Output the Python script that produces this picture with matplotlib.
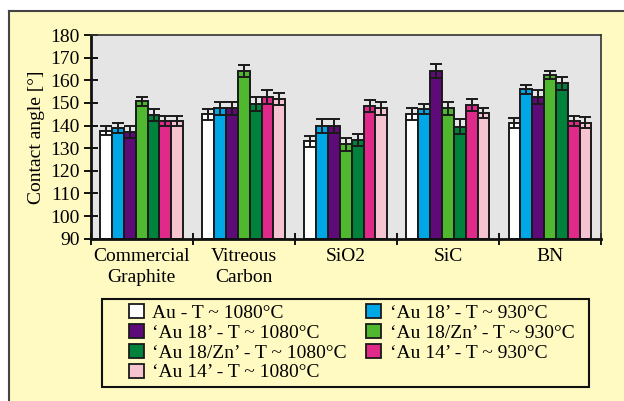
import matplotlib.pyplot as plt
import numpy as np
from matplotlib.patches import Rectangle, Patch

plt.rcParams['font.family'] = ['Liberation Serif', 'DejaVu Serif']

substrates = ['Commercial\nGraphite', 'Vitreous\nCarbon', 'SiO2', 'SiC', 'BN']

# contact angles per alloy (mean, spread), one value per substrate
au_1080 = [137.7, 145.0, 133.0, 145.0, 141.2]
au_1080_err = [2.0, 2.4, 2.4, 2.7, 2.1]
au18_930 = [138.7, 147.6, 139.7, 147.1, 156.0]
au18_930_err = [2.2, 2.8, 3.0, 2.2, 2.0]
au18_1080 = [137.3, 147.6, 139.7, 164.2, 152.4]
au18_1080_err = [2.7, 2.8, 3.0, 3.1, 3.1]
au18zn_930 = [150.7, 164.1, 131.8, 147.6, 162.3]
au18zn_930_err = [2.0, 2.5, 2.9, 2.9, 1.9]
au18zn_1080 = [144.7, 149.6, 133.6, 139.4, 158.6]
au18zn_1080_err = [2.6, 3.0, 2.7, 3.3, 2.8]
au14_930 = [142.0, 152.6, 148.6, 149.2, 142.1]
au14_930_err = [2.0, 2.9, 2.6, 2.6, 2.2]
au14_1080 = [142.0, 151.8, 147.6, 145.5, 141.2]
au14_1080_err = [2.0, 2.7, 2.9, 2.3, 2.4]

labels = ['Au - T ~ 1080°C', '‘Au 18’ - T ~ 930°C', '‘Au 18’ - T ~ 1080°C',
          '‘Au 18/Zn’ - T ~ 930°C', '‘Au 18/Zn’ - T ~ 1080°C',
          '‘Au 14’ - T ~ 930°C', '‘Au 14’ - T ~ 1080°C']
series = [au_1080, au18_930, au18_1080, au18zn_930, au18zn_1080, au14_930, au14_1080]
errors = [au_1080_err, au18_930_err, au18_1080_err, au18zn_930_err,
          au18zn_1080_err, au14_930_err, au14_1080_err]
colors = ['#ffffff', '#00a7e6', '#5e0a78', '#4fb82e', '#00823d', '#df2a89', '#f6c4d1']

fs = 14

fig = plt.figure(figsize=(6.24, 4.01), dpi=100, facecolor='white')

# yellow panel with a dark edge on top and left
top = (401 - 11) / 401
fig.patches.append(Rectangle((8.5 / 624, -0.01), 1.0, top + 0.01,
                             transform=fig.transFigure, facecolor='#fff9c2',
                             edgecolor='none', zorder=-5))
fig.add_artist(plt.Line2D([8.5 / 624, 1], [top, top],
                          transform=fig.transFigure, color='#444444', lw=1.5))
fig.add_artist(plt.Line2D([8.5 / 624] * 2, [0, top],
                          transform=fig.transFigure, color='#444444', lw=1.5))

ax = fig.add_axes([90.7 / 624, (401 - 238.7) / 401, (601 - 90.7) / 624, (238.7 - 35) / 401])
ax.set_facecolor('#e5e5e5')

x = np.arange(len(substrates))
w = 0.116
for i, (vals, errs, c) in enumerate(zip(series, errors, colors)):
    pos = x + (i - 3) * w
    ax.bar(pos, np.array(vals) - 90, w, bottom=90, color=c, edgecolor='#1a1a1a',
           linewidth=1.4, zorder=2)
    ax.errorbar(pos, vals, yerr=errs, fmt='none', ecolor='#1a1a1a', elinewidth=1.4,
                capsize=4.2, capthick=1.4, zorder=3)

ax.set_xlim(-0.5, 4.5)
ax.set_ylim(90, 180)
ax.set_yticks(np.arange(90, 181, 10))
ax.set_xticks(np.arange(-0.5, 5, 1))
ax.set_xticklabels([])
ax.set_xticks(x, minor=True)
ax.set_xticklabels(substrates, minor=True, fontsize=fs, linespacing=1.25)
ax.tick_params(axis='x', which='minor', length=0, pad=7)
ax.tick_params(axis='x', which='major', direction='inout', length=9, width=1.3)
ax.tick_params(axis='y', direction='inout', length=10, width=1.3, labelsize=fs, pad=3)
ax.set_ylabel('Contact angle [°]', fontsize=fs, labelpad=4)

for side in ['left', 'bottom']:
    ax.spines[side].set_linewidth(2)
    ax.spines[side].set_color('#111111')
for side in ['top', 'right']:
    ax.spines[side].set_linewidth(1.2)
    ax.spines[side].set_color('#333333')

# legend: first column 1080°C alloys, second column 930°C alloys
order = [0, 2, 4, 6, 1, 3, 5]
handles = [Patch(facecolor=colors[k], edgecolor='#1a1a1a', linewidth=1.3) for k in order]
fig.patches.append(Rectangle((102 / 624, (401 - 387) / 401), (589 - 102) / 624, 88 / 401,
                             transform=fig.transFigure, facecolor='none',
                             edgecolor='#111111', linewidth=1.5, zorder=1))
fig.legend(handles, [labels[k] for k in order], ncol=2, frameon=False,
           loc='upper left', bbox_to_anchor=(129 / 624, (401 - 304) / 401),
           fontsize=fs, handlelength=0.75, handleheight=0.75, handletextpad=0.45,
           labelspacing=0.1, columnspacing=1.0, borderpad=0, borderaxespad=0)

fig.savefig('out.png', dpi=100, facecolor=fig.get_facecolor())
